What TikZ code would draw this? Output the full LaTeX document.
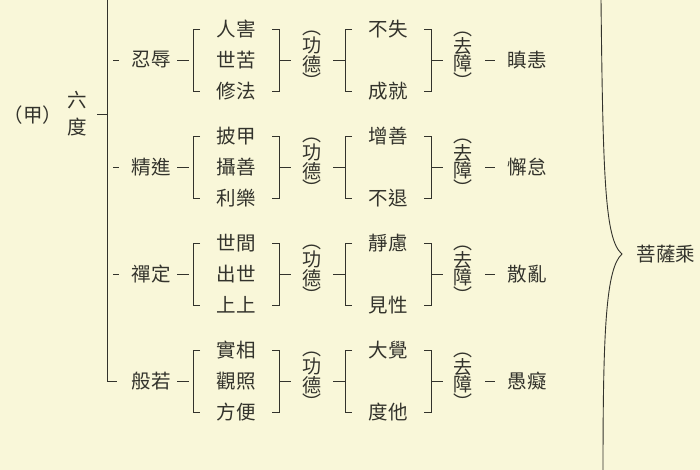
\documentclass[tikz,border=0pt]{standalone}
\usepackage{fontspec}
\setmainfont{Noto Sans CJK TC}
\definecolor{bg}{HTML}{F9F7D9}
\definecolor{ln}{HTML}{33332C}
\begin{document}
\begin{tikzpicture}[x=1pt,y=-1pt,
  lbl/.style={inner sep=0pt,font=\fontsize{19.5}{19.5}\selectfont,text=ln},
  vlbl/.style={inner sep=0pt,font=\fontsize{19}{17.5}\selectfont,text=ln,align=center},
  ln/.style={draw=ln,line width=0.9pt}]
\fill[bg] (0,0) rectangle (700,470);
\useasboundingbox (0,0) rectangle (700,470);
\node[lbl] (jia) at (33,115) {（甲）};
\node[vlbl,font=\fontsize{19.5}{27}\selectfont] (liudu) at (77,114) {六\\度};
\coordinate (trunkTop) at (107,0);
\coordinate (trunkBot) at (107,381);
\draw[ln] (97,114) -- (107,114);
\draw[ln] (trunkTop) -- (trunkBot) -- (117,381);
\foreach \i/\lab/\a/\b/\c/\d/\e/\f in {
  0/忍辱/人害/世苦/修法/不失/成就/瞋恚,
  1/精進/披甲/攝善/利樂/增善/不退/懈怠,
  2/禪定/世間/出世/上上/靜慮/見性/散亂,
  3/般若/實相/觀照/方便/大覺/度他/愚癡}{
  \pgfmathsetmacro{\y}{60+107*\i}
  \ifnum\i<3 \draw[ln] (113,\y) -- (119,\y); \fi
  \node[lbl] (r\i) at (151,\y) {\lab};
  \draw[ln] (177,\y) -- (189,\y);
  \draw[ln] (200,\y-31) -- (193,\y-31) -- (193,\y+31) -- (200,\y+31);
  \node[lbl] (a\i) at (236,\y-31) {\a};
  \node[lbl] (b\i) at (236,\y) {\b};
  \node[lbl] (c\i) at (236,\y+31) {\c};
  \draw[ln] (272,\y-31) -- (279,\y-31) -- (279,\y+31) -- (272,\y+31);
  \draw[ln] (279,\y) -- (291,\y);
  \node[vlbl] (g\i) at (312,\y) {︵\\功\\德\\︶};
  \draw[ln] (333,\y) -- (345,\y);
  \draw[ln] (352,\y-31) -- (345,\y-31) -- (345,\y+31) -- (352,\y+31);
  \node[lbl] (d\i) at (388,\y-31) {\d};
  \node[lbl] (e\i) at (388,\y+31) {\e};
  \draw[ln] (424,\y-31) -- (431,\y-31) -- (431,\y+31) -- (424,\y+31);
  \draw[ln] (431,\y) -- (443,\y);
  \node[vlbl] (q\i) at (463,\y) {︵\\去\\障\\︶};
  \draw[ln] (485,\y) -- (495,\y);
  \node[lbl] (f\i) at (527,\y) {\f};
}
\node[lbl] (psc) at (666,254) {菩薩乘};
\coordinate (bt) at (601,0);
\coordinate (bb) at (603,470);
\coordinate (tip) at (622,254);
\draw[ln] (bt) .. controls (603,180) and (605,240) .. (tip)
  .. controls (606,268) and (603,330) .. (bb);
\end{tikzpicture}
\end{document}
